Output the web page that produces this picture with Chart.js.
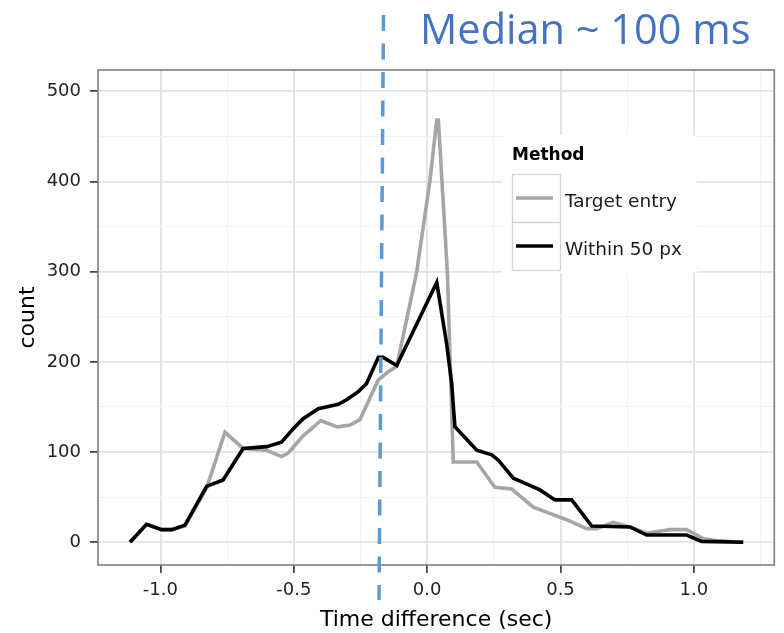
<!DOCTYPE html>
<html>
<head>
<meta charset="utf-8">
<script src="https://cdn.jsdelivr.net/npm/chart.js@4/dist/chart.umd.min.js"></script>
<style>
  html, body { margin: 0; padding: 0; background: #ffffff; }
  #wrap { width: 784px; height: 633px; position: relative; }
</style>
</head>
<body>
<div id="wrap"><canvas id="c"></canvas></div>
<script>
// ---- data ----
const seriesNames = ['Target entry', 'Within 50 px'];

const withinX = [-1.114, -1.052, -0.996, -0.957, -0.908, -0.827, -0.765, -0.690, -0.602, -0.546,
                 -0.502, -0.465, -0.408, -0.333, -0.302, -0.258, -0.227, -0.183, -0.165, -0.114,
                 0.036, 0.073, 0.092, 0.104, 0.186, 0.242, 0.267, 0.323, 0.385, 0.423,
                 0.479, 0.542, 0.617, 0.760, 0.823, 0.973, 1.029, 1.185];
const withinY = [0, 20, 14, 14, 19, 62, 69, 104, 106, 111,
                 126, 137, 148, 153, 158, 167, 176, 205, 205, 196,
                 288, 220, 176, 128, 102, 97, 91, 71, 63, 58,
                 47, 47, 18, 17, 8, 8, 1, 0];

const targetX = [-1.114, -1.052, -0.996, -0.957, -0.908, -0.827, -0.758, -0.690, -0.602, -0.546,
                 -0.521, -0.465, -0.398, -0.373, -0.336, -0.289, -0.252, -0.183, -0.146, -0.114,
                 -0.039, 0.010, 0.036, 0.042, 0.076, 0.098, 0.186, 0.254, 0.317, 0.398,
                 0.460, 0.523, 0.598, 0.636, 0.698, 0.760, 0.823, 0.910, 0.973, 1.035,
                 1.085, 1.185];
const targetY = [0, 20, 14, 14, 18, 60, 122, 104, 102, 95,
                 99, 118, 135, 132, 128, 130, 136, 180, 189, 195,
                 300, 400, 468, 468, 298, 89, 89, 61, 59, 39,
                 32, 25, 15, 15, 22, 17, 10, 14, 14, 4,
                 2, 0];

const xTickValues = [-1.0, -0.75, -0.5, -0.25, 0.0, 0.25, 0.5, 0.75, 1.0, 1.25];
const xMajorTicks = [-1.0, -0.5, 0.0, 0.5, 1.0];
const xTickLabels = ['-1.0', '-0.5', '0.0', '0.5', '1.0'];
const yTickValues = [0, 50, 100, 150, 200, 250, 300, 350, 400, 450, 500];
const yMajorTicks = [0, 100, 200, 300, 400, 500];
const yTickLabels = ['0', '100', '200', '300', '400', '500'];

const medianX = -0.173;
const titleText = 'Median ~ 100 ms';
const xTitle = 'Time difference (sec)';
const yTitle = 'count';
const legendTitle = 'Method';

// ---- helpers ----
const near = (a, b) => Math.abs(a - b) < 1e-6;
const isXMajor = v => xMajorTicks.some(m => near(m, v));
const isYMajor = v => yMajorTicks.some(m => near(m, v));
const xLabel = v => { const i = xMajorTicks.findIndex(m => near(m, v)); return i >= 0 ? xTickLabels[i] : ''; };
const yLabel = v => { const i = yMajorTicks.findIndex(m => near(m, v)); return i >= 0 ? yTickLabels[i] : ''; };
const toPts = (xs, ys) => xs.map((x, i) => ({ x: x, y: ys[i] }));

const FONT = '"DejaVu Sans", "Liberation Sans", sans-serif';
const GRAY = '#a6a6a6';
const BLACK = '#000000';

const overlay = {
  id: 'overlay',
  afterDatasetsDraw(chart) {
    const { ctx, chartArea: a } = chart;
    ctx.save();
    ctx.strokeStyle = '#7f7f7f';
    ctx.lineWidth = 1.6;
    ctx.strokeRect(a.left, a.top, a.right - a.left, a.bottom - a.top);
    ctx.restore();
  },
  afterDraw(chart) {
    const { ctx, chartArea: a, scales } = chart;
    ctx.save();

    // legend
    ctx.fillStyle = '#ffffff';
    ctx.fillRect(502, 135, 195, 138);
    ctx.fillStyle = '#000000';
    ctx.font = 'bold 17px ' + FONT;
    ctx.textAlign = 'left';
    ctx.textBaseline = 'middle';
    ctx.fillText(legendTitle, 512, 156);
    const keys = [{ c: GRAY, y: 174.5, label: seriesNames[0] }, { c: BLACK, y: 222.5, label: seriesNames[1] }];
    keys.forEach(k => {
      ctx.strokeStyle = '#d4d4d4';
      ctx.lineWidth = 1.3;
      ctx.strokeRect(512.5, k.y, 48, 48);
      ctx.strokeStyle = k.c;
      ctx.lineWidth = 3.6;
      ctx.beginPath();
      ctx.moveTo(516, k.y + 23.5);
      ctx.lineTo(553, k.y + 23.5);
      ctx.stroke();
      ctx.fillStyle = '#1a1a1a';
      ctx.font = '18.5px ' + FONT;
      ctx.fillText(k.label, 565, k.y + 28);
    });

    // axis titles
    ctx.fillStyle = '#000000';
    ctx.font = '22px ' + FONT;
    ctx.textAlign = 'center';
    ctx.textBaseline = 'middle';
    ctx.fillText(xTitle, (a.left + a.right) / 2, 620);
    ctx.save();
    ctx.translate(28, (a.top + a.bottom) / 2);
    ctx.rotate(-Math.PI / 2);
    ctx.fillText(yTitle, 0, 0);
    ctx.restore();

    // median dashed line
    const xp = scales.x.getPixelForValue(medianX);
    ctx.strokeStyle = '#5B9BD5';
    ctx.lineWidth = 3.5;
    ctx.setLineDash([16, 12.5]);
    ctx.beginPath();
    ctx.moveTo(xp + 2.5, 15);
    ctx.lineTo(xp - 2, 600);
    ctx.stroke();
    ctx.setLineDash([]);

    // title
    ctx.fillStyle = '#4472C4';
    ctx.font = '41.5px "Open Sans", sans-serif';
    ctx.textAlign = 'left';
    ctx.textBaseline = 'alphabetic';
    ctx.fillText(titleText, 420, 44);

    ctx.restore();
  }
};

new Chart(document.getElementById('c'), {
  type: 'scatter',
  data: {
    datasets: [
      { label: seriesNames[1], data: toPts(withinX, withinY), showLine: true, borderColor: BLACK,
        borderWidth: 3.6, pointRadius: 0, pointHoverRadius: 0, tension: 0, order: 0 },
      { label: seriesNames[0], data: toPts(targetX, targetY), showLine: true, borderColor: GRAY,
        borderWidth: 3.6, pointRadius: 0, pointHoverRadius: 0, tension: 0, order: 1 }
    ]
  },
  options: {
    responsive: true,
    maintainAspectRatio: false,
    animation: false,
    devicePixelRatio: 1,
    layout: { padding: { top: 70, right: 9.7, left: 0, bottom: 0 } },
    plugins: { legend: { display: false }, tooltip: { enabled: false }, title: { display: false } },
    scales: {
      x: {
        type: 'linear', min: -1.234, max: 1.3015,
        afterBuildTicks: s => { s.ticks = xTickValues.map(v => ({ value: v })); },
        afterFit: s => { s.height = 68; },
        border: { display: false },
        grid: {
          color: c => isXMajor(c.tick.value) ? '#e3e3e3' : '#f2f2f2',
          lineWidth: c => isXMajor(c.tick.value) ? 1.8 : 1,
          tickColor: c => isXMajor(c.tick.value) ? '#333333' : 'rgba(0,0,0,0)',
          tickLength: 8, tickWidth: 1.6, drawTicks: true
        },
        ticks: {
          autoSkip: false, maxRotation: 0, padding: 7,
          color: '#222222', font: { family: FONT, size: 18 },
          callback: v => xLabel(v)
        }
      },
      y: {
        type: 'linear', min: -25.2, max: 523.6,
        afterBuildTicks: s => { s.ticks = yTickValues.map(v => ({ value: v })); },
        afterFit: s => { s.width = 98; },
        border: { display: false },
        grid: {
          color: c => isYMajor(c.tick.value) ? '#e3e3e3' : '#f2f2f2',
          lineWidth: c => isYMajor(c.tick.value) ? 1.8 : 1,
          tickColor: c => isYMajor(c.tick.value) ? '#333333' : 'rgba(0,0,0,0)',
          tickLength: 8, tickWidth: 1.6, drawTicks: true
        },
        ticks: {
          autoSkip: false, padding: 9,
          color: '#222222', font: { family: FONT, size: 18 },
          callback: v => yLabel(v)
        }
      }
    }
  },
  plugins: [overlay]
});
</script>
</body>
</html>
